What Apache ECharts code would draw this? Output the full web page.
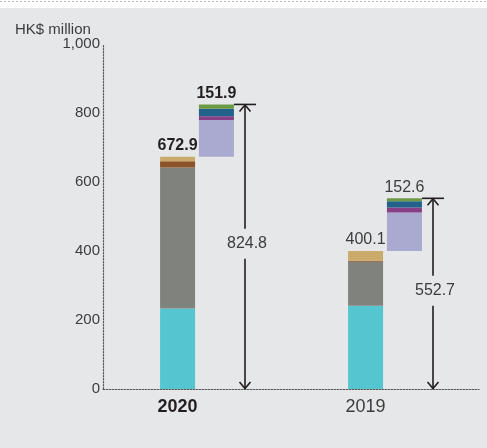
<!DOCTYPE html>
<html>
<head>
<meta charset="utf-8">
<script src="https://cdn.jsdelivr.net/npm/echarts@6/dist/echarts.min.js"></script>
<style>
html,body{margin:0;padding:0;background:#fff;}
#c{width:487px;height:448px;}
</style>
</head>
<body>
<div id="c"></div>
<script>
const categories = ['2020', '2019'];
const boldCategory = '2020';
// base stack (bottom to top)
const baseCyan = [233, 241];
const baseGrey = [409, 128];
const baseBrown = [18.5, 3];
const baseTan = [12.4, 28.1];
// additional floating stack (bottom to top)
const addLavender = [107, 111.5];
const addPurple = [11, 14.7];
const addBlue = [21.4, 17.6];
const addGreen = [12.5, 8.8];
// labelled totals
const baseTotals = [672.9, 400.1];
const addTotals = [151.9, 152.6];
const grandTotals = [824.8, 552.7];
const yTicks = [0, 200, 400, 600, 800, 1000];

const FONT = 'Liberation Sans';
const TXT = '#3c3c3c';
const DARK = '#231f20';

const chart = echarts.init(document.getElementById('c'));

function stackSeries(name, stack, values, color, totals) {
  return {
    name: name, type: 'bar', stack: stack, barWidth: 35, barGap: '11%',
    itemStyle: { color: color },
    emphasis: { disabled: true },
    data: values.map((v, i) => {
      const d = { value: v };
      if (totals) {
        d.label = {
          show: true, position: 'top', distance: 3,
          formatter: totals[i].toFixed(1),
          fontFamily: FONT, fontSize: 16,
          fontWeight: categories[i] === boldCategory ? 'bold' : 'normal',
          color: categories[i] === boldCategory ? DARK : TXT
        };
      }
      return d;
    })
  };
}

const series = [
  stackSeries('cyan', 'base', baseCyan, '#55c5d0'),
  stackSeries('grey', 'base', baseGrey, '#80837d'),
  stackSeries('brown', 'base', baseBrown, '#8c5228'),
  stackSeries('tan', 'base', baseTan, '#cbab6b', baseTotals),
  stackSeries('offset', 'add', baseTotals, 'rgba(0,0,0,0)'),
  stackSeries('lavender', 'add', addLavender, '#aaaad0'),
  stackSeries('purple', 'add', addPurple, '#873f86'),
  stackSeries('blue', 'add', addBlue, '#22628a'),
  stackSeries('green', 'add', addGreen, '#6d9844', addTotals),
  {
    type: 'custom',
    silent: true,
    data: categories.map((c, i) => [i, grandTotals[i]]),
    encode: { x: 0, y: 1 },
    renderItem: function (params, api) {
      const idx = api.value(0);
      const val = api.value(1);
      const top = api.coord([idx, val]);
      const bot = api.coord([idx, 0]);
      const x = top[0] + 48;
      const ty = top[1], by = bot[1];
      const my = (ty + by) / 2 - 3;
      const st = { stroke: DARK, lineWidth: 1.6, fill: null };
      return {
        type: 'group',
        children: [
          { type: 'line', shape: { x1: x - 11, y1: ty, x2: x + 11, y2: ty }, style: st },
          { type: 'line', shape: { x1: x, y1: ty, x2: x, y2: my - 15 }, style: st },
          { type: 'line', shape: { x1: x, y1: my + 15, x2: x, y2: by }, style: st },
          { type: 'polyline', shape: { points: [[x - 5.5, ty + 7], [x, ty + 0.5], [x + 5.5, ty + 7]] }, style: st },
          { type: 'polyline', shape: { points: [[x - 5.5, by - 7], [x, by - 0.5], [x + 5.5, by - 7]] }, style: st },
          { type: 'text', style: { text: val.toFixed(1), x: x + 2, y: my, align: 'center', verticalAlign: 'middle', fill: TXT, font: '16px "' + FONT + '"' } }
        ]
      };
    },
    z: 5
  }
];

chart.setOption({
  backgroundColor: '#e6e7e8',
  animation: false,
  textStyle: { fontFamily: FONT },
  title: {
    text: 'HK$ million', left: 15, top: 22, padding: 0,
    textStyle: { fontFamily: FONT, fontSize: 15, fontWeight: 'normal', color: TXT }
  },
  graphic: [
    { type: 'rect', shape: { x: 0, y: 0, width: 487, height: 8 }, style: { fill: '#ffffff' }, silent: true },
    { type: 'line', shape: { x1: 0, y1: 1.5, x2: 487, y2: 1.5 }, style: { stroke: '#b8b8b8', lineWidth: 1, lineDash: [2, 2] }, silent: true }
  ],
  grid: { left: 103, right: 8, top: 44, bottom: 59, containLabel: false },
  xAxis: {
    type: 'category',
    data: categories,
    axisLine: { lineStyle: { color: '#555', type: [1.5, 1.5], width: 1.2 } },
    axisTick: { show: false },
    axisLabel: {
      margin: 9,
      formatter: v => (v === boldCategory ? '{b|' + v + '}' : '{n|' + v + '}'),
      rich: {
        b: { fontFamily: FONT, fontSize: 18, fontWeight: 'bold', color: DARK, padding: [0, 39, 0, 0] },
        n: { fontFamily: FONT, fontSize: 18, fontWeight: 'normal', color: TXT, padding: [0, 39, 0, 0] }
      }
    }
  },
  yAxis: {
    type: 'value', min: yTicks[0], max: yTicks[yTicks.length - 1], interval: yTicks[1] - yTicks[0],
    axisLine: { show: true, lineStyle: { color: '#555', type: [1.5, 1.5], width: 1.2 } },
    axisTick: { show: false },
    splitLine: { show: false },
    axisLabel: {
      fontFamily: FONT, fontSize: 15, color: TXT, margin: 3,
      formatter: v => v.toLocaleString('en-US')
    }
  },
  series: series
});
</script>
</body>
</html>
